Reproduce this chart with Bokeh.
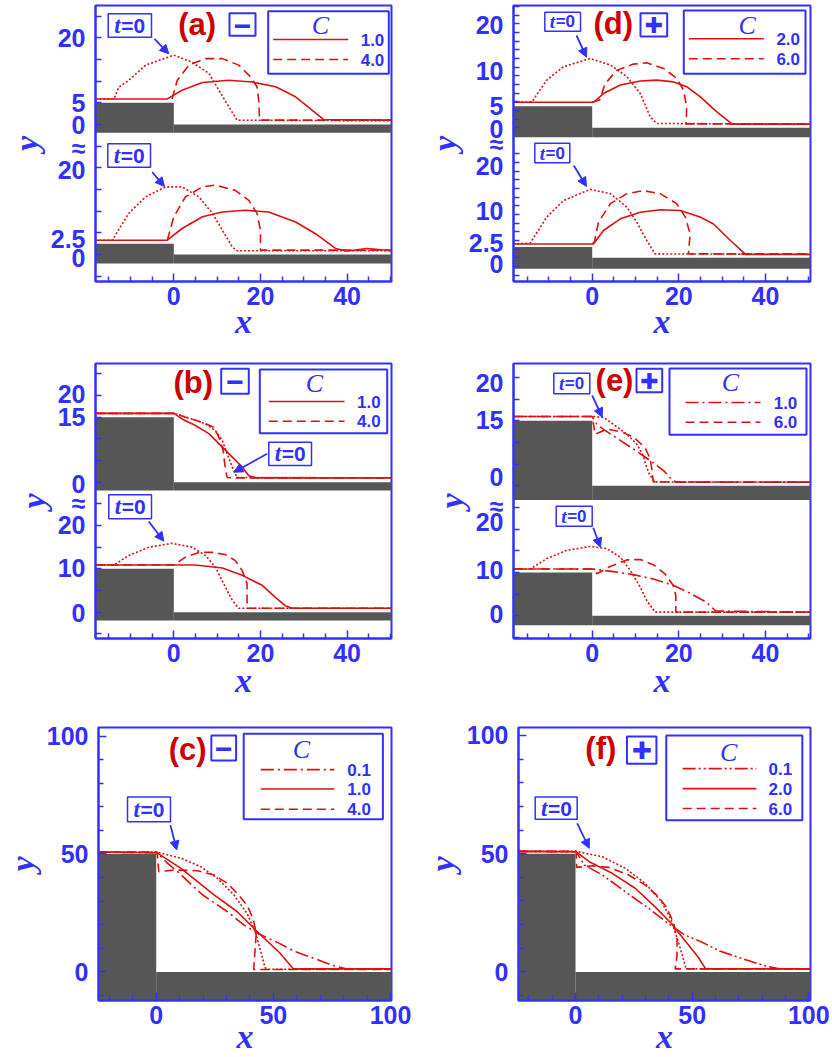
import numpy as np
from bokeh.plotting import figure
from bokeh.models import Range1d, FixedTicker, Label, Arrow, NormalHead
from bokeh.layouts import row, column
from bokeh.embed import file_html
from bokeh.resources import INLINE

BLUE = "#3030ff"
RED = "#dd1010"
DRED = "#cc0000"
GRAY = "#565656"

# ---------------- data (x, y of free surfaces) ----------------
# panel (a): upper sub-plot (step 5), lower sub-plot (step 2.5)
a_up_t0_x = [-18.1, -13.8, -12.7, -10.4, -6.5, 0.0, 4.2, 8.1, 10.4, 12.7, 14.6, 50.3]
a_up_t0_y = [5.9, 5.9, 8.6, 10.2, 13.7, 16.0, 14.4, 11.8, 7.9, 4.1, 1.0, 0.85]
a_up_c1_x = [-18.1, -1.5, 1.9, 6.6, 12.7, 18.1, 23.5, 28.1, 31.9, 34.6, 50.3]
a_up_c1_y = [5.9, 5.9, 7.9, 9.7, 10.2, 9.8, 8.7, 6.4, 3.3, 1.15, 1.0]
a_up_c4_x = [-0.4, 0.8, 3.5, 7.3, 11.2, 15.0, 17.7, 19.2, 19.6, 19.8, 50.3]
a_up_c4_y = [5.9, 10.2, 13.7, 15.2, 15.2, 13.7, 11.0, 8.7, 5.6, 1.0, 1.0]
a_lo_t0_x = [-18.1, -14.2, -10.4, -6.5, -1.9, 1.9, 5.8, 8.9, 11.2, 13.5, 14.6, 50.3]
a_lo_t0_y = [3.3, 3.3, 9.5, 13.3, 15.6, 15.6, 13.3, 9.5, 5.6, 1.75, 0.85, 0.85]
a_lo_c1_x = [-18.1, -1.5, 1.9, 6.6, 11.2, 16.5, 21.9, 28.1, 32.7, 37.3, 40.0, 44.6, 50.3]
a_lo_c1_y = [3.3, 3.3, 6.0, 8.7, 9.8, 10.2, 9.8, 7.5, 4.8, 1.4, 0.8, 1.4, 0.85]
a_lo_c4_x = [-1.5, 0.0, 2.7, 6.6, 9.6, 14.2, 17.3, 19.2, 20.0, 20.0, 50.3]
a_lo_c4_y = [3.3, 8.7, 13.3, 15.6, 16.0, 14.8, 12.5, 9.5, 5.6, 1.0, 1.0]
a_steps = [5.0, 2.5]          # step heights (upper, lower)
a_base = [-1.9, -2.1]         # bottom of the grey bed
a_C = ["1.0", "4.0"]

# panel (d)
d_up_t0_x = [-18.2, -13.9, -10.5, -6.6, -0.5, 4.2, 8.0, 11.1, 13.4, 14.9, 50.4]
d_up_t0_y = [5.9, 6.0, 11.0, 14.1, 16.0, 14.5, 11.8, 7.9, 2.5, 1.0, 0.85]
d_up_c2_x = [-18.2, 0.3, 2.6, 6.5, 11.1, 14.9, 18.8, 21.8, 24.9, 28.5, 32.3, 50.4]
d_up_c2_y = [5.9, 5.9, 7.9, 9.9, 10.8, 11.0, 10.6, 9.5, 7.2, 3.9, 0.85, 0.85]
d_up_c6_x = [0.0, 1.7, 3.0, 5.7, 9.5, 12.6, 16.5, 19.5, 21.1, 21.8, 21.7, 50.4]
d_up_c6_y = [5.9, 6.4, 10.2, 13.3, 14.7, 15.0, 13.7, 11.4, 8.7, 4.8, 0.9, 0.9]
d_lo_t0_x = [-18.2, -14.3, -10.5, -6.6, -0.5, 4.2, 8.0, 10.3, 12.6, 14.5, 50.4]
d_lo_t0_y = [3.2, 3.4, 9.4, 13.2, 15.8, 14.8, 11.7, 8.2, 4.0, 0.9, 0.8]
d_lo_c2_x = [-18.2, 0.3, 2.6, 6.5, 11.1, 15.7, 20.3, 24.9, 28.0, 31.9, 35.4, 50.4]
d_lo_c2_y = [3.2, 3.2, 6.3, 9.0, 10.5, 11.1, 10.9, 9.4, 7.8, 4.0, 0.8, 0.8]
d_lo_c6_x = [0.0, 0.5, 1.45, 4.2, 8.0, 11.8, 15.7, 19.5, 21.5, 22.6, 22.2, 50.4]
d_lo_c6_y = [3.2, 3.6, 8.2, 12.5, 14.8, 15.5, 14.8, 12.5, 9.4, 5.5, 0.9, 0.9]
d_steps = [5.0, 2.5]
d_base = [-2.2, -2.5]
d_C = ["2.0", "6.0"]

# panel (b)
b_up_t0_x = [-18.1, 0.0, 4.2, 7.3, 9.6, 11.2, 12.3, 13.5, 14.6, 50.3]
b_up_t0_y = [15.9, 15.9, 14.6, 13.5, 11.9, 9.6, 6.6, 3.5, 1.1, 1.0]
b_up_c1_x = [-18.1, 0.0, 1.9, 5.0, 8.1, 11.2, 13.5, 15.8, 17.3, 18.9, 50.3]
b_up_c1_y = [15.9, 15.9, 14.6, 13.1, 11.2, 8.1, 5.8, 3.5, 1.5, 1.0, 1.0]
b_up_c4_x = [-18.1, 0.0, 2.7, 6.6, 9.2, 10.4, 11.4, 11.8, 12.3, 13.9, 50.3]
b_up_c4_y = [15.9, 15.9, 15.0, 13.8, 12.7, 10.4, 7.3, 3.9, 1.1, 1.0, 1.0]
b_lo_t0_x = [-18.1, -13.8, -10.4, -5.8, -0.4, 4.2, 7.3, 9.6, 11.9, 13.5, 15.0, 50.3]
b_lo_t0_y = [10.9, 10.9, 13.1, 15.0, 15.9, 15.0, 13.1, 10.4, 5.8, 2.7, 0.9, 0.9]
b_lo_c1_x = [-18.1, 5.0, 11.2, 15.8, 20.4, 23.4, 25.7, 27.3, 50.3]
b_lo_c1_y = [10.9, 10.9, 10.2, 8.5, 6.2, 3.5, 1.5, 0.9, 0.9]
b_lo_c4_x = [-18.1, 0.0, 2.7, 5.8, 8.9, 11.9, 14.2, 15.8, 16.9, 16.9, 50.3]
b_lo_c4_y = [10.9, 10.9, 12.7, 13.8, 13.8, 13.3, 11.9, 9.6, 6.6, 0.9, 0.9]
b_steps = [15.0, 10.0]
b_base = [-1.9, -1.9]
b_C = ["1.0", "4.0"]

# panel (e)
e_up_t0_x = [-18.2, 0.0, 2.6, 4.9, 8.0, 10.3, 11.8, 12.6, 13.4, 14.5, 50.4]
e_up_t0_y = [16.0, 16.0, 15.8, 14.2, 11.9, 9.6, 6.9, 4.2, 2.3, 0.9, 0.85]
e_up_c1_x = [-18.2, 0.0, 1.2, 4.9, 9.5, 13.4, 16.5, 18.6, 19.6, 50.4]
e_up_c1_y = [16.0, 16.0, 14.0, 11.5, 8.5, 5.8, 3.5, 1.2, 0.85, 0.85]
e_up_c6_x = [-18.2, 0.0, 0.7, 3.4, 6.5, 9.5, 12.2, 13.4, 13.8, 14.1, 50.4]
e_up_c6_y = [16.0, 16.0, 11.9, 13.1, 12.5, 11.3, 8.8, 6.2, 3.5, 0.9, 0.85]
e_lo_t0_x = [-18.2, -14.3, -10.5, -5.9, -0.5, 3.4, 6.5, 8.8, 11.1, 12.6, 14.5, 50.4]
e_lo_t0_y = [10.8, 10.8, 13.2, 15.1, 16.0, 15.5, 13.5, 10.5, 6.6, 3.5, 0.85, 0.85]
e_lo_c1_x = [-18.2, 0.0, 4.9, 9.5, 14.1, 18.8, 22.6, 26.4, 28.5, 50.4]
e_lo_c1_y = [10.8, 10.8, 10.2, 9.5, 8.5, 7.0, 5.2, 3.1, 1.1, 0.85]
e_lo_c6_x = [-18.2, 0.0, 1.1, 4.2, 8.0, 11.1, 14.1, 16.8, 18.7, 19.3, 19.3, 19.3, 50.4]
e_lo_c6_y = [10.8, 10.8, 9.7, 11.4, 12.9, 13.0, 11.8, 9.7, 7.0, 4.7, 2.4, 0.85, 0.85]
e_steps = [15.0, 10.0]
e_base = [-3.3, -2.2]
e_C = ["1.0", "6.0"]

# panel (c)
c_t0_x = [-24.6, 0.4, 10.6, 19.0, 26.1, 33.1, 38.7, 42.2, 44.4, 46.5, 48.0, 100.4]
c_t0_y = [50.8, 50.8, 48.2, 44.6, 39.7, 32.7, 24.9, 17.2, 9.4, 1.7, 1.1, 1.1]
c_c1_x = [-24.6, 0.4, 10.6, 24.7, 34.5, 43.0, 52.8, 58.5, 100.4]
c_c1_y = [50.8, 50.5, 43.9, 32.7, 25.6, 17.2, 8.0, 1.3, 1.3]
c_c4_x = [-24.6, 0.4, 1.1, 7.8, 17.6, 24.7, 30.3, 34.5, 38.7, 41.3, 42.7, 42.2, 41.6, 100.4]
c_c4_y = [50.8, 50.8, 42.5, 43.2, 42.9, 41.1, 37.6, 33.4, 28.4, 22.8, 16.5, 9.4, 1.0, 1.0]
c_c01_x = [-24.6, 0.4, 4.9, 9.9, 19.7, 30.3, 37.3, 43.0, 52.1, 59.1, 66.9, 75.4, 81.0, 100.4]
c_c01_y = [50.8, 50.5, 46.0, 41.8, 32.7, 25.6, 20.0, 16.5, 12.3, 8.7, 5.9, 2.7, 1.3, 1.3]
c_steps = [50.0]
c_C = ["0.1", "1.0", "4.0"]

# panel (f)
f_t0_x = [-24.4, 0.3, 11.5, 21.4, 29.8, 36.8, 41.0, 43.8, 45.9, 47.3, 48.5, 100.7]
f_t0_y = [51.0, 51.0, 48.7, 43.8, 37.5, 29.8, 22.0, 13.6, 6.6, 1.7, 1.3, 1.3]
f_c2_x = [-24.4, 0.3, 5.9, 15.7, 25.6, 34.0, 41.0, 46.6, 52.3, 55.8, 100.7]
f_c2_y = [51.0, 50.8, 46.6, 41.7, 35.4, 27.6, 20.6, 13.6, 6.6, 1.3, 1.3]
f_c6_x = [-24.4, 0.3, 0.5, 7.3, 14.3, 22.8, 29.8, 34.7, 38.9, 42.1, 43.5, 43.5, 42.7, 100.7]
f_c6_y = [51.0, 51.0, 44.2, 44.9, 44.2, 41.0, 36.8, 32.6, 27.6, 20.6, 13.6, 6.6, 1.3, 1.3]
f_c01_x = [-24.4, 0.3, 3.8, 11.5, 24.2, 31.2, 39.6, 46.6, 53.6, 62.1, 71.9, 81.8, 87.4, 100.7]
f_c01_y = [51.0, 50.8, 45.2, 41.0, 31.9, 27.0, 20.6, 15.7, 12.9, 8.7, 5.5, 2.4, 1.3, 1.3]
f_steps = [50.0]
f_C = ["0.1", "2.0", "6.0"]

# tick labels
x_ticks_small = [0, 20, 40]
x_ticks_big = [0, 50, 100]
y_ticks_big = [0, 50, 100]

# ---------------- layout / style ----------------
OFF = 30.0   # shift of the upper sub-plot in a broken-axis panel
DASH = {"t0": "2 2", "solid": "solid", "dash": "9 5",
        "dashdot": "13 4 2 4", "dashdotdot": "13 3 2 3 2 3"}

SPEC = {
    "a": dict(frame=(95, 5, 391, 281), xr=(-18.07, 50.24), yr=(-6.23, 57.46)),
    "d": dict(frame=(513, 5, 810, 281), xr=(-18.16, 50.38), yr=(-5.47, 58.23)),
    "b": dict(frame=(95, 363, 391, 638), xr=(-18.07, 50.24), yr=(-6.07, 57.40)),
    "e": dict(frame=(513, 363, 810, 638), xr=(-18.16, 50.38), yr=(-5.24, 58.23)),
    "c": dict(frame=(95, 727, 391, 1001), xr=(-24.63, 100.42), yr=(-12.13, 103.63)),
    "f": dict(frame=(513, 727, 810, 1001), xr=(-24.44, 100.72), yr=(-12.09, 103.37)),
}


def px_x(k, px):
    L, T, R, B = SPEC[k]["frame"]
    x0, x1 = SPEC[k]["xr"]
    return x0 + (px - L) / (R - L) * (x1 - x0)


def px_y(k, py):
    L, T, R, B = SPEC[k]["frame"]
    y0, y1 = SPEC[k]["yr"]
    return y1 - (py - T) / (B - T) * (y1 - y0)


def make_fig(k, w, h, bl, br, bt, bb, xlab_off):
    s = SPEC[k]
    p = figure(width=w, height=h, x_range=Range1d(*s["xr"]), y_range=Range1d(*s["yr"]),
               output_backend="svg", toolbar_location=None,
               min_border_left=bl, min_border_right=br, min_border_top=bt, min_border_bottom=bb)
    p.outline_line_color = BLUE
    p.outline_line_width = 2
    p.outline_line_alpha = 1.0
    p.xgrid.visible = False
    p.ygrid.visible = False
    p.background_fill_color = "white"
    p.border_fill_color = "white"
    for ax in (p.xaxis[0], p.yaxis[0]):
        ax.axis_line_color = BLUE
        ax.axis_line_width = 2
        ax.major_tick_line_color = BLUE
        ax.minor_tick_line_color = BLUE
        ax.major_tick_line_width = 1.5
        ax.minor_tick_line_width = 1.5
        ax.major_tick_out = 0
        ax.minor_tick_out = 0
        ax.major_tick_in = 8
        ax.minor_tick_in = 5
        ax.major_label_text_font = "Liberation Sans"
        ax.major_label_text_font_style = "bold"
        ax.major_label_text_font_size = "25px"
        ax.major_label_text_color = BLUE
        ax.axis_label_text_font = "Liberation Serif"
        ax.axis_label_text_font_style = "bold italic"
        ax.axis_label_text_font_size = "34px"
        ax.axis_label_text_color = BLUE
    p.xaxis.axis_label = "x"
    p.yaxis.axis_label = "y"
    p.xaxis.major_label_standoff = 5
    p.xaxis.axis_label_standoff = xlab_off
    p.yaxis.major_label_standoff = 10
    p.yaxis.axis_label_standoff = 3
    return p


def set_x_ticks(p, big):
    if big:
        p.xaxis.ticker = FixedTicker(ticks=x_ticks_big, minor_ticks=[-20, -10, 10, 20, 30, 40, 60, 70, 80, 90])
    else:
        p.xaxis.ticker = FixedTicker(ticks=x_ticks_small,
                                     minor_ticks=[-15, -10, -5, 5, 10, 15, 25, 30, 35, 45, 50])


def set_y_broken(p, majors, labels, minors, brk):
    # the axis break mark is drawn as an extra tick label
    majors = list(majors) + [brk]
    labels = list(labels) + ["≈"]
    p.yaxis.ticker = FixedTicker(ticks=majors, minor_ticks=minors)
    p.yaxis.major_label_overrides = {m: l for m, l in zip(majors, labels)}
    p.yaxis.major_tick_in = 0
    p.yaxis.minor_tick_in = 6


def txt(p, k, px, py, s, size, color=BLUE, font="Liberation Sans", style="bold",
        align="center", baseline="middle"):
    p.add_layout(Label(x=px_x(k, px), y=px_y(k, py), text=s, text_font=font,
                       text_font_style=style, text_font_size=f"{size}px", text_color=color,
                       text_align=align, text_baseline=baseline))


def box(p, k, L, T, R, B, lw=2):
    p.quad(left=[px_x(k, L)], right=[px_x(k, R)], top=[px_y(k, T)], bottom=[px_y(k, B)],
           fill_color="white", line_color=BLUE, line_width=lw)


def hline(p, k, x0, x1, py, style):
    p.line([px_x(k, x0), px_x(k, x1)], [px_y(k, py), px_y(k, py)], line_color=RED,
           line_width=1.6, line_dash=DASH[style])


def t0_box(p, k, rect, fs, arrow):
    L, T, R, B = rect
    box(p, k, L, T, R, B, lw=1.5)
    cy = (T + B) / 2
    split = L + 0.29 * (R - L)
    txt(p, k, split, cy, "t", fs + 2, font="Liberation Serif", style="bold italic",
        align="right", baseline="middle")
    txt(p, k, split + 0.5, cy, "=0", fs, align="left", baseline="middle")
    x0, y0, x1, y1 = arrow
    p.add_layout(Arrow(end=NormalHead(size=9, fill_color=BLUE, line_color=BLUE, line_width=1),
                       x_start=px_x(k, x0), y_start=px_y(k, y0), x_end=px_x(k, x1), y_end=px_y(k, y1),
                       line_color=BLUE, line_width=1.8))


def annotate(p, k, ann):
    tag, tx, ty = ann["tag"]
    txt(p, k, tx, ty, tag, 31, color=DRED)
    sym, L, T, R, B, font, fs = ann["sign"]
    box(p, k, L, T, R, B, lw=2)
    txt(p, k, (L + R) / 2, (T + B) / 2 + 1, sym, fs, font=font)
    L, T, R, B = ann["leg"]
    box(p, k, L, T, R, B, lw=2)
    cx, cy = ann["cpos"]
    txt(p, k, cx, cy, "C", 26, font="Liberation Serif", style="italic")
    lx0, lx1 = ann["lx"]
    for style, ly, lab in ann["entries"]:
        hline(p, k, lx0, lx1, ly, style)
        txt(p, k, ann["tx"], ly, lab, 17)
    for rect, fs, arr in ann["t0"]:
        t0_box(p, k, rect, fs, arr)


def grey_bed(p, k, step, base, off=0.0):
    x0, x1 = SPEC[k]["xr"]
    p.quad(left=[x0 - 5], right=[0], bottom=[base + off], top=[step + off],
           fill_color=GRAY, line_color=None)
    p.quad(left=[0], right=[x1 + 5], bottom=[base + off], top=[0 + off],
           fill_color=GRAY, line_color=None)


def curve(p, xs, ys, style, off=0.0):
    p.line(xs, np.array(ys) + off, line_color=RED, line_width=1.6, line_dash=DASH[style])


def split_panel(k, w, h, bl, br, bt, bb, xoff, up, lo, steps, base, ymaj, ylab, ymin, brk, ann):
    p = make_fig(k, w, h, bl, br, bt, bb, xoff)
    set_x_ticks(p, False)
    set_y_broken(p, ymaj, ylab, ymin, px_y(k, brk))
    grey_bed(p, k, steps[0], base[0], OFF)
    grey_bed(p, k, steps[1], base[1], 0.0)
    for xs, ys, st in up:
        curve(p, xs, ys, st, OFF)
    for xs, ys, st in lo:
        curve(p, xs, ys, st, 0.0)
    annotate(p, k, ann)
    return p


minors5 = [-5, 0, 5, 10, 15, 20, 25] + [OFF + v for v in (0, 5, 10, 15, 20, 25)]
minors2 = list(range(-4, 25, 2)) + [OFF + v for v in range(0, 29, 2)]

pa = split_panel(
    "a", 420, 345, 95, 29, 5, 64, -5,
    [(a_up_t0_x, a_up_t0_y, "t0"), (a_up_c1_x, a_up_c1_y, "solid"), (a_up_c4_x, a_up_c4_y, "dash")],
    [(a_lo_t0_x, a_lo_t0_y, "t0"), (a_lo_c1_x, a_lo_c1_y, "solid"), (a_lo_c4_x, a_lo_c4_y, "dash")],
    a_steps, a_base,
    [-0.9, 3.6, 19.6, 29.9, 35.0, 49.9], ["0", "2.5", "20", "0", "5", "20"], minors5, 147,
    dict(tag=("(a)", 196.7, 24), sign=("−", 229, 12.7, 255, 35.3, "Liberation Sans", 30),
         leg=(267.7, 10.7, 388.3, 73.3), cpos=(320, 25), lx=(272.7, 347.7), tx=372,
         entries=[("solid", 39, a_C[0]), ("dash", 59, a_C[1])],
         t0=[((107.7, 13.3, 151, 36.7), 21, (154, 38.3, 168.3, 53.3)),
             ((107.3, 143.3, 150, 166.7), 21, (151.7, 171.7, 164, 186))]))

pd = split_panel(
    "d", 412, 345, 93, 22, 5, 64, -5,
    [(d_up_t0_x, d_up_t0_y, "t0"), (d_up_c2_x, d_up_c2_y, "solid"), (d_up_c6_x, d_up_c6_y, "dash")],
    [(d_lo_t0_x, d_lo_t0_y, "t0"), (d_lo_c2_x, d_lo_c2_y, "solid"), (d_lo_c6_x, d_lo_c6_y, "dash")],
    d_steps, d_base,
    [-1.4, 3.5, 10.9, 21.1, 29.8, 35.0, 43.0, 53.8], ["0", "2.5", "10", "20", "0", "5", "10", "20"],
    minors2, 143.5,
    dict(tag=("(d)", 612.7, 23.3), sign=("✚", 640, 12.7, 666.7, 36, "DejaVu Sans", 22),
         leg=(683.3, 10, 805, 73.3), cpos=(746.7, 25), lx=(688.3, 763.3), tx=787.7,
         entries=[("solid", 38.3, d_C[0]), ("dash", 58.3, d_C[1])],
         t0=[((544.3, 11.7, 580, 30.7), 17, (576, 35, 586, 56.7)),
             ((534.3, 142.7, 569.3, 162.3), 17, (573.3, 165, 586, 186))]))

pb = split_panel(
    "b", 420, 360, 95, 29, 18, 67, -3,
    [(b_up_t0_x, b_up_t0_y, "t0"), (b_up_c1_x, b_up_c1_y, "solid"), (b_up_c4_x, b_up_c4_y, "dash")],
    [(b_lo_t0_x, b_lo_t0_y, "t0"), (b_lo_c1_x, b_lo_c1_y, "solid"), (b_lo_c4_x, b_lo_c4_y, "dash")],
    b_steps, b_base,
    [-0.2, 10.2, 20.2, 29.6, 45.0, 50.4], ["0", "10", "20", "0", "15", "20"], minors5, 502.5,
    dict(tag=("(b)", 192.7, 381.7), sign=("−", 220.7, 368.3, 248.3, 393.3, "Liberation Sans", 30),
         leg=(259.3, 369, 386.7, 432.7), cpos=(314, 383.3), lx=(268.3, 344), tx=368.3,
         entries=[("solid", 401, b_C[0]), ("dash", 420.7, b_C[1])],
         t0=[((268.3, 441.7, 311, 465), 21, (266.7, 453.3, 233.3, 471.7)),
             ((108.3, 494.3, 151, 518.3), 21, (148.3, 521, 163.3, 540.7))]))

pe = split_panel(
    "e", 412, 360, 93, 22, 18, 67, -3,
    [(e_up_t0_x, e_up_t0_y, "t0"), (e_up_c1_x, e_up_c1_y, "dashdot"), (e_up_c6_x, e_up_c6_y, "dash")],
    [(e_lo_t0_x, e_lo_t0_y, "t0"), (e_lo_c1_x, e_lo_c1_y, "dashdot"), (e_lo_c6_x, e_lo_c6_y, "dash")],
    e_steps, e_base,
    [0.3, 10.5, 21.6, 32.0, 45.1, 53.7], ["0", "10", "20", "0", "15", "20"], minors5, 505,
    dict(tag=("(e)", 614, 380), sign=("✚", 636, 368.3, 661.7, 391.7, "DejaVu Sans", 22),
         leg=(669, 368, 806, 434.3), cpos=(730, 381.7), lx=(685, 760), tx=785,
         entries=[("dashdot", 402, e_C[0]), ("dash", 421.7, e_C[1])],
         t0=[((553.3, 372.7, 589.3, 393.3), 17, (591.7, 395, 601.7, 416.7)),
             ((555.7, 505.7, 591.7, 525.7), 17, (592.7, 527.3, 600, 546.7))]))


def single_panel(k, w, h, bl, br, bt, bb, xoff, curves, step, ann):
    p = make_fig(k, w, h, bl, br, bt, bb, xoff)
    set_x_ticks(p, True)
    p.yaxis.ticker = FixedTicker(ticks=y_ticks_big, minor_ticks=[-10, 10, 20, 30, 40, 60, 70, 80, 90])
    grey_bed(p, k, step, -20.0, 0.0)
    for xs, ys, st in curves:
        curve(p, xs, ys, st)
    annotate(p, k, ann)
    return p


pc = single_panel(
    "c", 420, 352, 95, 29, 22, 56, -9,
    [(c_t0_x, c_t0_y, "t0"), (c_c01_x, c_c01_y, "dashdot"), (c_c1_x, c_c1_y, "solid"),
     (c_c4_x, c_c4_y, "dash")],
    c_steps[0],
    dict(tag=("(c)", 185, 749.3), sign=("−", 209, 735, 234, 760, "Liberation Sans", 30),
         leg=(241.7, 733.3, 382.3, 819), cpos=(300, 749.3), lx=(259, 333.3), tx=358.3,
         entries=[("dashdot", 769.3, c_C[0]), ("solid", 788.7, c_C[1]), ("dash", 809, c_C[2])],
         t0=[((124.3, 796.7, 167.7, 821.7), 21, (167.7, 825, 174, 850))]))

pf = single_panel(
    "f", 412, 352, 93, 22, 22, 56, -9,
    [(f_t0_x, f_t0_y, "t0"), (f_c01_x, f_c01_y, "dashdotdot"), (f_c2_x, f_c2_y, "solid"),
     (f_c6_x, f_c6_y, "dash")],
    f_steps[0],
    dict(tag=("(f)", 596.7, 748.3), sign=("✚", 623.3, 736, 653.3, 763.3, "DejaVu Sans", 24),
         leg=(663.3, 735, 801.7, 820), cpos=(726.7, 751.7), lx=(680, 755), tx=779.3,
         entries=[("dashdotdot", 768.3, f_C[0]), ("solid", 788.3, f_C[1]), ("dash", 808.3, f_C[2])],
         t0=[((530, 796.7, 572.7, 819), 21, (572.7, 823.3, 585, 848.3))]))

layout = column(row(pa, pd, spacing=0), row(pb, pe, spacing=0), row(pc, pf, spacing=0), spacing=0)
open("out.html", "w").write(file_html(layout, INLINE))
